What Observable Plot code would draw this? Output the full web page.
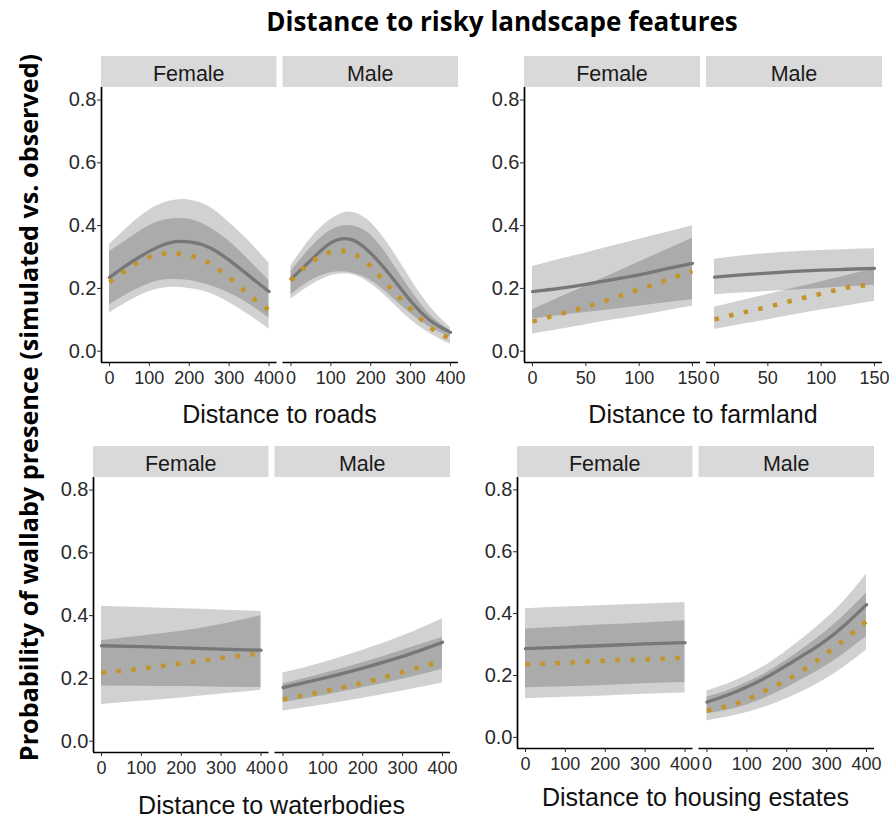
<!DOCTYPE html>
<html><head><meta charset="utf-8">
<script src="https://cdn.jsdelivr.net/npm/d3@7"></script>
<script src="https://cdn.jsdelivr.net/npm/@observablehq/plot@0.6"></script>
<style>
body{margin:0;background:#fff;}
#root{position:relative;width:889px;height:820px;overflow:hidden;background:#fff;}
.grp{position:absolute;}
#overlay{position:absolute;left:0;top:0;}
</style></head><body><div id="root"></div>
<script>
// ---------- labels ----------
const chartTitle = "Distance to risky landscape features";
const yAxisTitle = "Probability of wallaby presence (simulated vs. observed)";
const sexes = ["Female", "Male"];
const yTicks = [0, 0.2, 0.4, 0.6, 0.8];
const roadsTicks = [0, 100, 200, 300, 400];
const farmTicks = [0, 50, 100, 150];
const waterTicks = [0, 100, 200, 300, 400];
const housingTicks = [0, 100, 200, 300, 400];

// ---------- roads ----------
const roadsX = [0, 50, 100, 150, 200, 250, 300, 350, 400];
const roadsFemaleSim   = [0.235, 0.280, 0.318, 0.345, 0.348, 0.330, 0.290, 0.240, 0.190];
const roadsFemaleObs   = [0.220, 0.265, 0.300, 0.312, 0.305, 0.280, 0.235, 0.180, 0.130];
const roadsFemaleSimLo = [0.148, 0.185, 0.215, 0.228, 0.225, 0.210, 0.185, 0.150, 0.106];
const roadsFemaleSimHi = [0.340, 0.400, 0.450, 0.478, 0.482, 0.460, 0.410, 0.350, 0.280];
const roadsFemaleObsLo = [0.122, 0.160, 0.190, 0.203, 0.200, 0.185, 0.155, 0.115, 0.071];
const roadsFemaleObsHi = [0.317, 0.360, 0.400, 0.420, 0.420, 0.395, 0.350, 0.290, 0.225];
const roadsMaleSim   = [0.230, 0.290, 0.345, 0.356, 0.312, 0.240, 0.160, 0.097, 0.060];
const roadsMaleObs   = [0.225, 0.283, 0.316, 0.314, 0.270, 0.200, 0.135, 0.075, 0.040];
const roadsMaleSimLo = [0.180, 0.225, 0.250, 0.250, 0.225, 0.175, 0.120, 0.075, 0.045];
const roadsMaleSimHi = [0.272, 0.360, 0.420, 0.443, 0.410, 0.330, 0.230, 0.140, 0.075];
const roadsMaleObsLo = [0.166, 0.210, 0.240, 0.245, 0.215, 0.160, 0.100, 0.055, 0.022];
const roadsMaleObsHi = [0.255, 0.330, 0.385, 0.400, 0.370, 0.290, 0.195, 0.115, 0.065];

// ---------- farmland ----------
const farmX = [0, 25, 50, 75, 100, 125, 150];
const farmFemaleSim   = [0.190, 0.200, 0.213, 0.228, 0.243, 0.262, 0.280];
const farmFemaleObs   = [0.094, 0.118, 0.141, 0.168, 0.197, 0.226, 0.255];
const farmFemaleSimLo = [0.103, 0.113, 0.123, 0.133, 0.143, 0.154, 0.164];
const farmFemaleSimHi = [0.270, 0.292, 0.313, 0.335, 0.357, 0.378, 0.400];
const farmFemaleObsLo = [0.055, 0.069, 0.084, 0.099, 0.113, 0.128, 0.143];
const farmFemaleObsHi = [0.132, 0.170, 0.208, 0.246, 0.284, 0.322, 0.360];
const farmMaleSim   = [0.236, 0.243, 0.249, 0.254, 0.258, 0.261, 0.264];
const farmMaleObs   = [0.101, 0.122, 0.141, 0.163, 0.183, 0.203, 0.213];
const farmMaleSimLo = [0.180, 0.185, 0.190, 0.195, 0.200, 0.205, 0.210];
const farmMaleSimHi = [0.293, 0.303, 0.311, 0.317, 0.321, 0.324, 0.326];
const farmMaleObsLo = [0.069, 0.085, 0.100, 0.116, 0.131, 0.145, 0.159];
const farmMaleObsHi = [0.141, 0.161, 0.181, 0.201, 0.221, 0.242, 0.262];

// ---------- waterbodies ----------
const waterX = [0, 100, 200, 300, 400];
const waterFemaleSim   = [0.304, 0.301, 0.297, 0.293, 0.290];
const waterFemaleObs   = [0.218, 0.231, 0.248, 0.265, 0.280];
const waterFemaleSimLo = [0.176, 0.175, 0.174, 0.172, 0.171];
const waterFemaleSimHi = [0.430, 0.426, 0.422, 0.418, 0.413];
const waterFemaleObsLo = [0.117, 0.127, 0.138, 0.150, 0.162];
const waterFemaleObsHi = [0.320, 0.335, 0.350, 0.372, 0.400];
const waterMaleSim   = [0.171, 0.200, 0.233, 0.270, 0.315];
const waterMaleObs   = [0.133, 0.158, 0.186, 0.220, 0.256];
const waterMaleSimLo = [0.123, 0.145, 0.170, 0.197, 0.229];
const waterMaleSimHi = [0.217, 0.250, 0.290, 0.335, 0.390];
const waterMaleObsLo = [0.096, 0.115, 0.137, 0.160, 0.185];
const waterMaleObsHi = [0.182, 0.215, 0.250, 0.290, 0.330];

// ---------- housing estates ----------
const housingFemaleX = [0, 100, 200, 300, 400];
const housingFemaleSim   = [0.287, 0.292, 0.297, 0.302, 0.306];
const housingFemaleObs   = [0.236, 0.241, 0.248, 0.252, 0.257];
const housingFemaleSimLo = [0.160, 0.164, 0.168, 0.173, 0.177];
const housingFemaleSimHi = [0.416, 0.421, 0.426, 0.431, 0.436];
const housingFemaleObsLo = [0.125, 0.130, 0.134, 0.139, 0.143];
const housingFemaleObsHi = [0.350, 0.357, 0.364, 0.370, 0.377];
const housingMaleX = [0, 50, 100, 150, 200, 250, 300, 350, 400];
const housingMaleSim   = [0.114, 0.136, 0.163, 0.195, 0.233, 0.272, 0.315, 0.368, 0.429];
const housingMaleObs   = [0.086, 0.101, 0.122, 0.153, 0.185, 0.225, 0.272, 0.322, 0.376];
const housingMaleSimLo = [0.076, 0.088, 0.105, 0.130, 0.160, 0.195, 0.232, 0.276, 0.326];
const housingMaleSimHi = [0.150, 0.172, 0.200, 0.235, 0.280, 0.330, 0.385, 0.450, 0.528];
const housingMaleObsLo = [0.054, 0.065, 0.080, 0.100, 0.125, 0.155, 0.190, 0.233, 0.282];
const housingMaleObsHi = [0.130, 0.150, 0.177, 0.210, 0.250, 0.295, 0.345, 0.402, 0.467];

// ---------- build tables ----------
function rowsFor(sex, xs, sim, obs, simLo, simHi, obsLo, obsHi) {
  return xs.map((x, i) => ({sex, x, sim: sim[i], obs: obs[i], simLo: simLo[i], simHi: simHi[i], obsLo: obsLo[i], obsHi: obsHi[i]}));
}
const roadsRows = rowsFor("Female", roadsX, roadsFemaleSim, roadsFemaleObs, roadsFemaleSimLo, roadsFemaleSimHi, roadsFemaleObsLo, roadsFemaleObsHi)
  .concat(rowsFor("Male", roadsX, roadsMaleSim, roadsMaleObs, roadsMaleSimLo, roadsMaleSimHi, roadsMaleObsLo, roadsMaleObsHi));
const farmRows = rowsFor("Female", farmX, farmFemaleSim, farmFemaleObs, farmFemaleSimLo, farmFemaleSimHi, farmFemaleObsLo, farmFemaleObsHi)
  .concat(rowsFor("Male", farmX, farmMaleSim, farmMaleObs, farmMaleSimLo, farmMaleSimHi, farmMaleObsLo, farmMaleObsHi));
const waterRows = rowsFor("Female", waterX, waterFemaleSim, waterFemaleObs, waterFemaleSimLo, waterFemaleSimHi, waterFemaleObsLo, waterFemaleObsHi)
  .concat(rowsFor("Male", waterX, waterMaleSim, waterMaleObs, waterMaleSimLo, waterMaleSimHi, waterMaleObsLo, waterMaleObsHi));
const housingRows = rowsFor("Female", housingFemaleX, housingFemaleSim, housingFemaleObs, housingFemaleSimLo, housingFemaleSimHi, housingFemaleObsLo, housingFemaleObsHi)
  .concat(rowsFor("Male", housingMaleX, housingMaleSim, housingMaleObs, housingMaleSimLo, housingMaleSimHi, housingMaleObsLo, housingMaleObsHi));

const FONT = "'Liberation Sans', Arial, sans-serif";
const BOLDFONT = "'Open Sans', Lato, sans-serif";
const yDomain = [-0.036, 0.84];
const root = document.getElementById("root");

// overlay for titles
const overlay = d3.select(root).append("svg").attr("id", "overlay").attr("width", 889).attr("height", 820);

function group({left, top, width, height, ml, mr, mt, mb, xDomain, ticks, rows, title, titleY}) {
  const svg = Plot.plot({
    width, height,
    marginLeft: ml, marginRight: mr, marginTop: mt, marginBottom: mb,
    style: {fontFamily: FONT, background: "transparent", overflow: "visible", color: "#333"},
    x: {domain: xDomain},
    y: {domain: yDomain},
    fx: {domain: sexes, paddingInner: 0.033, paddingOuter: 0, round: false, axis: null},
    marks: [
      Plot.areaY(rows, {x: "x", y1: "simLo", y2: "simHi", fx: "sex", fill: "#000", fillOpacity: 0.18, curve: "natural"}),
      Plot.areaY(rows, {x: "x", y1: "obsLo", y2: "obsHi", fx: "sex", fill: "#000", fillOpacity: 0.18, curve: "natural"}),
      Plot.line(rows, {x: "x", y: "sim", fx: "sex", stroke: "#777777", strokeWidth: 3.3, curve: "natural"}),
      Plot.line(rows, {x: "x", y: "obs", fx: "sex", stroke: "#c49428", strokeWidth: 4.5, strokeDasharray: "4.5 10.5", strokeLinecap: "butt", curve: "natural"}),
      Plot.ruleY([yDomain[0]], {stroke: "#000", strokeWidth: 1.7}),
      Plot.ruleX([{sex: "Female"}], {x: () => xDomain[0], fx: "sex", stroke: "#000", strokeWidth: 1.7}),
      Plot.axisX({ticks, tickFormat: d => String(d), tickSize: 4, tickPadding: 5, fontSize: 18, label: null, color: "#2a2a2a"}),
      Plot.axisY({ticks: yTicks, tickFormat: d => d.toFixed(1), tickSize: 4, tickPadding: 1, fontSize: 20, label: null, color: "#2a2a2a"})
    ]
  });
  const div = document.createElement("div");
  div.className = "grp";
  div.style.left = left + "px";
  div.style.top = top + "px";
  div.appendChild(svg);
  root.appendChild(div);
  // facet strips
  const fx = svg.scale("fx");
  const g = d3.select(svg).append("g");
  for (const s of sexes) {
    const x0 = fx.apply(s);
    g.append("rect").attr("x", x0).attr("y", 0).attr("width", fx.bandwidth).attr("height", mt).attr("fill", "#d9d9d9");
    g.append("text").attr("x", x0 + fx.bandwidth / 2).attr("y", 24.5)
      .attr("text-anchor", "middle").attr("font-family", FONT).attr("font-size", 21.5).attr("fill", "#1a1a1a").text(s);
  }
  // axis title
  const cx = left + ml + (width - ml - mr) / 2;
  overlay.append("text").attr("x", cx).attr("y", titleY).attr("text-anchor", "middle")
    .attr("font-family", FONT).attr("font-size", 25).attr("fill", "#111").text(title);
}

group({left: 45, top: 56, width: 418, height: 336, ml: 56, mr: 5, mt: 31, mb: 30, xDomain: [-20, 420], ticks: roadsTicks, rows: roadsRows, title: "Distance to roads", titleY: 423});
group({left: 470, top: 56, width: 417, height: 336, ml: 54, mr: 5, mt: 31, mb: 30, xDomain: [-7.5, 157.5], ticks: farmTicks, rows: farmRows, title: "Distance to farmland", titleY: 423});
group({left: 40, top: 446, width: 415, height: 336, ml: 53, mr: 5, mt: 31, mb: 30, xDomain: [-20, 420], ticks: waterTicks, rows: waterRows, title: "Distance to waterbodies", titleY: 814});
group({left: 465, top: 446, width: 414, height: 332, ml: 52, mr: 5, mt: 31, mb: 30, xDomain: [-20, 420], ticks: housingTicks, rows: housingRows, title: "Distance to housing estates", titleY: 806});

overlay.append("text").attr("x", 502).attr("y", 31).attr("text-anchor", "middle")
  .attr("font-family", BOLDFONT).attr("font-weight", "bold").attr("font-size", 26).attr("fill", "#000").text(chartTitle);
overlay.append("text").attr("transform", "translate(38,407.5) rotate(-90)").attr("text-anchor", "middle")
  .attr("font-family", BOLDFONT).attr("font-weight", "bold").attr("font-size", 25.2).attr("fill", "#000").text(yAxisTitle);
</script>
</body></html>
